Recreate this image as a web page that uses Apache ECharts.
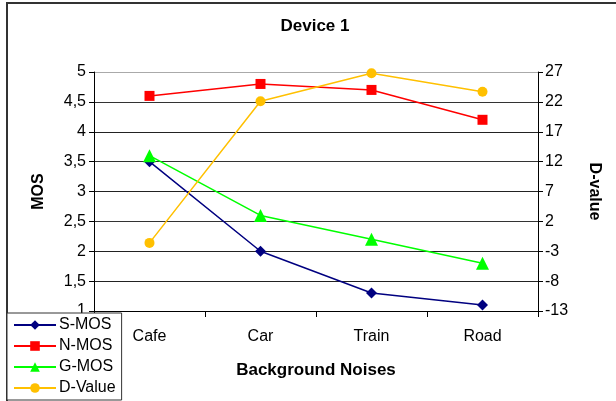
<!DOCTYPE html>
<html>
<head>
<meta charset="utf-8">
<script src="https://cdn.jsdelivr.net/npm/echarts@6/dist/echarts.min.js"></script>
<style>
  html, body { margin: 0; padding: 0; background: #fff; }
  #chart { width: 616px; height: 401px; }
</style>
</head>
<body>
<div id="chart"></div>
<script>
// data
var categories = ['Cafe', 'Car', 'Train', 'Road'];
var sMos = [3.5, 2.0, 1.3, 1.1];
var nMos = [4.6, 4.8, 4.7, 4.2];
var gMos = [3.6, 2.6, 2.2, 1.8];
var dValue = [-1.6, 22.1, 26.8, 23.7];

var font = 'Liberation Sans, Arial, sans-serif';

var chart = echarts.init(document.getElementById('chart'));

function lineSeries(name, data, color, symbol, size, yIdx) {
    return {
        name: name,
        type: 'line',
        yAxisIndex: yIdx,
        data: data,
        symbol: symbol,
        symbolSize: size,
        showAllSymbol: true,
        lineStyle: { color: color, width: 1.5 },
        itemStyle: { color: color },
        emphasis: { disabled: true },
        animation: false
    };
}

chart.setOption({
    animation: false,
    backgroundColor: '#fff',
    textStyle: { fontFamily: font },
    grid: { left: 94, right: 78, top: 72, bottom: 90 },
    graphic: [
        {
            type: 'rect',
            shape: { x: 7, y: 3, width: 700, height: 500 },
            style: { fill: null, stroke: '#333', lineWidth: 2 },
            silent: true
        },
        {
            type: 'text',
            x: 315, y: 26,
            style: {
                text: 'Device 1', fontFamily: font, fontSize: 17, fontWeight: 'bold',
                fill: '#000', textAlign: 'center', textVerticalAlign: 'middle'
            }
        }
    ],
    legend: {
        orient: 'vertical',
        left: 7,
        top: 313,
        z: 10,
        backgroundColor: '#fff',
        borderColor: '#333',
        borderWidth: 1,
        padding: [4, 6, 4, 6],
        itemWidth: 42,
        itemHeight: 12,
        itemGap: 5,
        textStyle: { fontFamily: font, fontSize: 16, lineHeight: 15, color: '#000', padding: [0, 0, 0, -2] },
        data: ['S-MOS', 'N-MOS', 'G-MOS', 'D-Value']
    },
    xAxis: {
        type: 'category',
        data: categories,
        boundaryGap: true,
        name: 'Background Noises',
        nameLocation: 'middle',
        nameGap: 51,
        nameTextStyle: { fontFamily: font, fontSize: 17, fontWeight: 'bold', color: '#000' },
        axisLine: { onZero: false, lineStyle: { color: '#000', width: 1 } },
        axisTick: { show: true, length: 6, lineStyle: { color: '#000' } },
        axisLabel: { fontFamily: font, fontSize: 16, color: '#000', margin: 18 }
    },
    yAxis: [
        {
            type: 'value',
            min: 1, max: 5, interval: 0.5,
            name: 'MOS',
            nameLocation: 'middle',
            nameRotate: 90,
            nameGap: 47,
            nameTextStyle: { fontFamily: font, fontSize: 16, fontWeight: 'bold', color: '#000' },
            axisLine: { show: true, lineStyle: { color: '#000', width: 1 } },
            axisTick: { show: true, length: 5, lineStyle: { color: '#000' } },
            axisLabel: {
                fontFamily: font, fontSize: 16, color: '#000', margin: 8,
                formatter: function (v) { return String(v).replace('.', ','); }
            },
            splitLine: {
                show: true,
                lineStyle: { color: ['#000', '#222', '#222', '#333', '#222', '#333', '#222', '#333', '#aaa'], width: 1 }
            }
        },
        {
            type: 'value',
            min: -13, max: 27, interval: 5,
            position: 'right',
            name: 'D-value',
            nameLocation: 'middle',
            nameRotate: -90,
            nameGap: 48,
            nameTextStyle: { fontFamily: font, fontSize: 16, fontWeight: 'bold', color: '#000' },
            axisLine: { show: true, lineStyle: { color: '#000', width: 1 } },
            axisTick: { show: true, length: 5, lineStyle: { color: '#000' } },
            axisLabel: { fontFamily: font, fontSize: 16, color: '#000', margin: 7 },
            splitLine: { show: false }
        }
    ],
    series: [
        lineSeries('S-MOS', sMos, '#000080', 'diamond', 11, 0),
        lineSeries('N-MOS', nMos, '#ff0000', 'rect', 10, 0),
        lineSeries('G-MOS', gMos, '#00ff00', 'triangle', 13, 0),
        lineSeries('D-Value', dValue, '#ffc000', 'circle', 10, 1)
    ]
});
</script>
</body>
</html>
